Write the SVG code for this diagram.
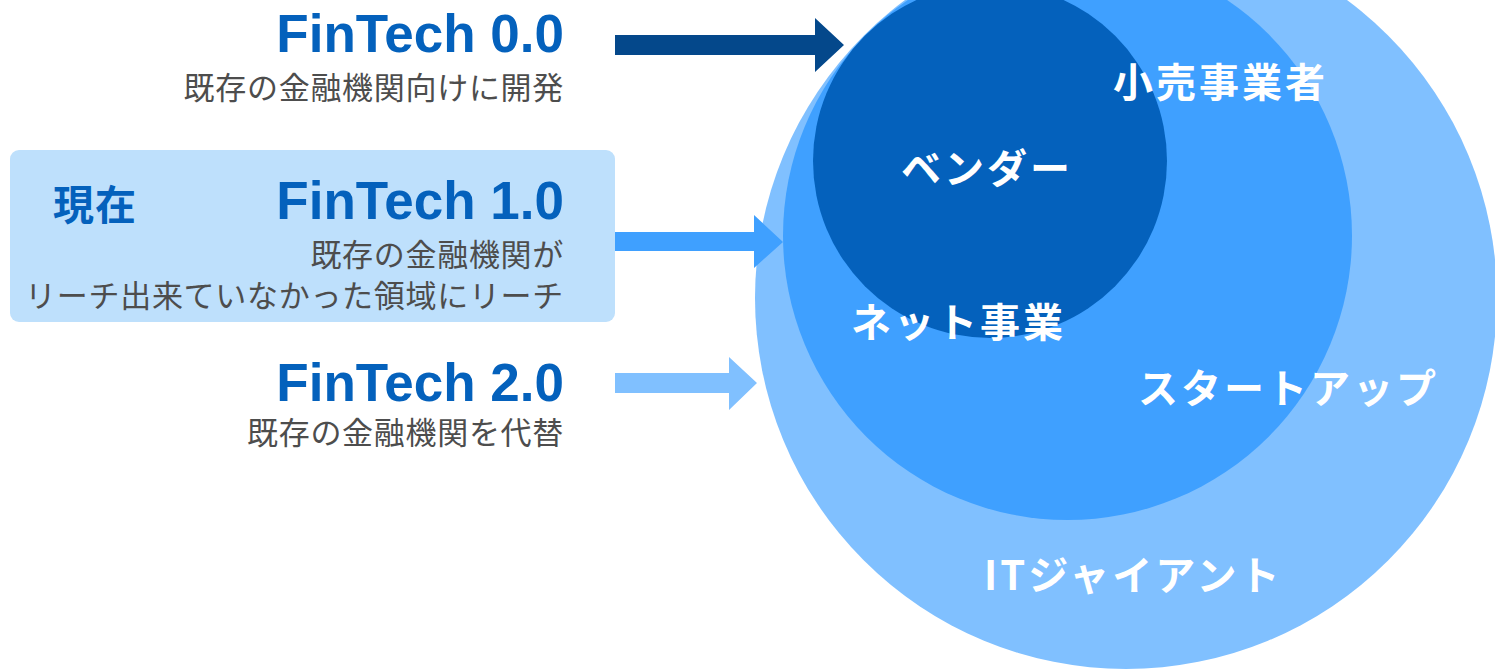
<svg xmlns="http://www.w3.org/2000/svg" width="1495" height="669" viewBox="0 0 1495 669">
<style>
.title{font-family:"Liberation Sans",Arial,sans-serif;font-weight:bold;font-size:53px;fill:#0461BC;text-anchor:end}
.sub{font-family:"Noto Sans CJK JP",sans-serif;font-size:31px;fill:#4D4D4D;text-anchor:end;letter-spacing:0.7px}
.lbl{font-family:"Noto Sans CJK JP",sans-serif;font-weight:bold;font-size:40px;fill:#FFFFFF;letter-spacing:3px}
</style>
<rect width="1495" height="669" fill="#FFFFFF"/>
<g id="circles">
<circle id="outer" cx="1126" cy="298" r="371" fill="#80C0FF"/>
<circle id="middle" cx="1067.5" cy="235.5" r="284.5" fill="#3FA0FF"/>
<circle id="inner" cx="990" cy="161" r="177" fill="#0461BC"/>
</g>
<g id="connectors">
<polygon points="615,35 815,35 815,18 844,45 815,72 815,55 615,55" fill="#04488B"/>
<polygon points="615,232 754,232 754,215 783,242 754,268 754,251 615,251" fill="#3FA0FF"/>
<polygon points="615,373 729,373 729,357 757,383 729,410 729,393 615,393" fill="#80C0FF"/>
</g>
<g id="fintech0">
<text class="title" x="564" y="52">FinTech 0.0</text>
<text class="sub" x="564" y="99">既存の金融機関向けに開発</text>
</g>
<g id="fintech1">
<rect x="10" y="150" width="605" height="172" rx="9" fill="#BEE0FC"/>
<text x="53" y="220" font-family="Noto Sans CJK JP,sans-serif" font-weight="bold" font-size="41" letter-spacing="1" fill="#0461BC">現在</text>
<text class="title" x="564" y="219">FinTech 1.0</text>
<text class="sub" x="564" y="266">既存の金融機関が</text>
<text class="sub" x="564" y="307">リーチ出来ていなかった領域にリーチ</text>
</g>
<g id="fintech2">
<text class="title" x="564" y="401">FinTech 2.0</text>
<text class="sub" x="564" y="444">既存の金融機関を代替</text>
</g>
<g id="labels">
<text id="retail" class="lbl" x="1113" y="97">小売事業者</text>
<text id="vendor" class="lbl" x="901" y="183">ベンダー</text>
<text id="net" class="lbl" x="851" y="337">ネット事業</text>
<text id="startup" class="lbl" x="1138" y="403">スタートアップ</text>
<text id="itgiant" class="lbl" x="984" y="590">ITジャイアント</text>
</g>
</svg>
